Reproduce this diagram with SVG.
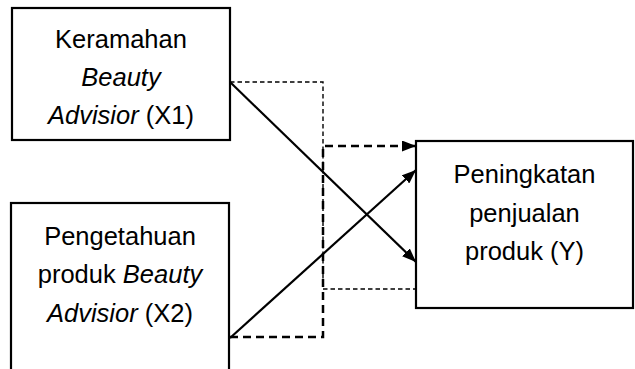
<svg xmlns="http://www.w3.org/2000/svg" width="635" height="369" viewBox="0 0 635 369">
<defs>
<style>
.box{fill:#fff;stroke:#000;stroke-width:2.2}
.t{font-family:"Liberation Sans",Arial,sans-serif;font-size:25.5px;fill:#000;text-anchor:middle}
.i{font-style:italic}
.solid{fill:none;stroke:#000;stroke-width:2.2}
.thin{fill:none;stroke:#000;stroke-width:1.4;stroke-dasharray:4.5 3}
.thick{fill:none;stroke:#000;stroke-width:2.5;stroke-dasharray:8 5}
</style>
<marker id="ah" viewBox="0 0 14 11" refX="14" refY="5.5" markerWidth="14" markerHeight="11" markerUnits="userSpaceOnUse" orient="auto">
<path d="M0,0 L14,5.5 L0,11 Z" fill="#000"/>
</marker>
</defs>
<rect width="635" height="369" fill="#fff"/>
<g id="connectors">
<polyline class="thin" points="230,82 323,82 323,289 416,289"/>
<polyline class="thick" points="230,337 323,337 323,146 402,146"/>
<path d="M402,146 L416,146" stroke="#000" stroke-width="2.5" marker-end="url(#ah)"/>
<line class="solid" x1="230" y1="82" x2="416" y2="262" marker-end="url(#ah)"/>
<line class="solid" x1="230" y1="338" x2="416" y2="170" marker-end="url(#ah)"/>
</g>
<g id="x1">
<rect class="box" x="12" y="8" width="218" height="132"/>
<text class="t" x="121" y="48">Keramahan</text>
<text class="t i" x="121" y="86">Beauty</text>
<text class="t" x="121" y="124"><tspan class="i">Advisior</tspan> (X1)</text>
</g>
<g id="x2">
<rect class="box" x="11" y="203" width="218" height="180"/>
<text class="t" x="120" y="245">Pengetahuan</text>
<text class="t" x="120" y="283">produk <tspan class="i">Beauty</tspan></text>
<text class="t" x="120" y="322"><tspan class="i">Advisior</tspan> (X2)</text>
</g>
<g id="y">
<rect class="box" x="416" y="141" width="217" height="167"/>
<text class="t" x="524.5" y="183">Peningkatan</text>
<text class="t" x="524.5" y="222">penjualan</text>
<text class="t" x="524.5" y="260">produk (Y)</text>
</g>
</svg>
